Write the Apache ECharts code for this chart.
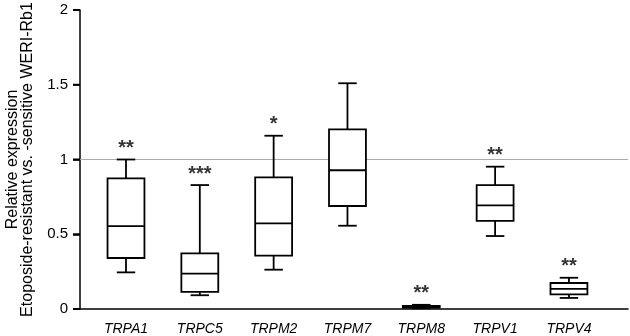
<!DOCTYPE html>
<html>
<head>
<meta charset="utf-8">
<script src="https://cdn.jsdelivr.net/npm/echarts@6/dist/echarts.min.js"></script>
<style>
    html, body { margin: 0; padding: 0; background: #fff; }
    #chart { width: 630px; height: 336px; }
</style>
</head>
<body>
<div id="chart"></div>
<script>
    // genes along the x axis
    let genes = ['TRPA1', 'TRPC5', 'TRPM2', 'TRPM7', 'TRPM8', 'TRPV1', 'TRPV4'];
    // box values: [min, Q1, median, Q3, max]
    let boxValues = [
        [0.245, 0.341, 0.555, 0.874, 1.0],
        [0.092, 0.114, 0.236, 0.372, 0.829],
        [0.263, 0.357, 0.573, 0.881, 1.159],
        [0.557, 0.689, 0.928, 1.202, 1.51],
        [0.005, 0.010, 0.015, 0.020, 0.028],
        [0.488, 0.589, 0.693, 0.829, 0.952],
        [0.074, 0.098, 0.134, 0.174, 0.209]
    ];
    let stars = ['**', '***', '*', '', '**', '**', '**'];
    let yTicks = [0, 0.5, 1, 1.5, 2];
    let referenceLevel = 1;

    let myChart = echarts.init(document.getElementById('chart'));

    let boxData = boxValues.map((v, i) => {
        return [i].concat(v);
    });
    let starData = boxValues.map((v, i) => {
        return {value: [i, v[4]], label: {formatter: stars[i]}};
    });
    let tickData = yTicks.map((v) => [0, v]);

    let lineW = 1.8;

    // box with half-width whisker caps
    function renderBox(params, api) {
        let x = api.value(0);
        let lo = api.coord([x, api.value(1)]);
        let q1 = api.coord([x, api.value(2)]);
        let med = api.coord([x, api.value(3)]);
        let q3 = api.coord([x, api.value(4)]);
        let hi = api.coord([x, api.value(5)]);
        let bw = api.size([1, 0])[0] * 0.5;
        let cw = bw / 4;
        let st = {stroke: '#000', lineWidth: lineW, fill: null};
        return {
            type: 'group',
            children: [
                {type: 'line', shape: {x1: hi[0], y1: hi[1], x2: q3[0], y2: q3[1]}, style: st},
                {type: 'line', shape: {x1: lo[0], y1: lo[1], x2: q1[0], y2: q1[1]}, style: st},
                {type: 'line', shape: {x1: hi[0] - cw, y1: hi[1], x2: hi[0] + cw, y2: hi[1]}, style: st},
                {type: 'line', shape: {x1: lo[0] - cw, y1: lo[1], x2: lo[0] + cw, y2: lo[1]}, style: st},
                {
                    type: 'rect',
                    shape: {x: q3[0] - bw / 2, y: q3[1], width: bw, height: q1[1] - q3[1]},
                    style: {stroke: '#000', lineWidth: lineW, fill: '#fff'}
                },
                {type: 'line', shape: {x1: med[0] - bw / 2, y1: med[1], x2: med[0] + bw / 2, y2: med[1]}, style: st}
            ]
        };
    }

    // outward y ticks, drawn as small filled rects left of the grid
    function renderTick(params, api) {
        let p = api.coord([api.value(0), api.value(1)]);
        let x0 = params.coordSys.x;
        return {
            type: 'rect',
            shape: {x: x0 - 7, y: p[1] - 1, width: 7, height: 2},
            style: {fill: '#000'}
        };
    }

    let option = {
        animation: false,
        grid: {left: 80, right: 2, top: 10, bottom: 27, outerBoundsMode: 'none', containLabel: false},
        xAxis: {
            type: 'value',
            min: -0.623,
            max: 6.80,
            splitLine: {show: false},
            axisLine: {show: true, onZero: false, lineStyle: {color: '#000', width: 1.5}},
            axisTick: {show: false},
            axisLabel: {
                customValues: genes.map((g, i) => i),
                formatter: (val) => genes[Math.round(val)],
                fontFamily: 'Liberation Sans, Arial',
                fontStyle: 'italic',
                fontSize: 14,
                color: '#000',
                margin: 13
            }
        },
        yAxis: {
            type: 'value',
            min: 0,
            max: 2,
            interval: 0.5,
            splitLine: {show: false},
            axisLine: {show: true, onZero: false, lineStyle: {color: '#000', width: 1.5}},
            axisTick: {show: true, length: 7, lineStyle: {color: '#000', width: 1.5}},
            axisLabel: {
                customValues: yTicks,
                formatter: (val) => String(val),
                fontFamily: 'Liberation Sans, Arial',
                fontSize: 15,
                color: '#000',
                margin: 12
            },
            name: 'Relative expression\nEtoposide-resistant vs. -sensitive WERI-Rb1',
            nameLocation: 'middle',
            nameGap: 45,
            nameTextStyle: {
                fontFamily: 'Liberation Sans, Arial',
                fontSize: 16,
                color: '#000',
                lineHeight: 15
            }
        },
        series: [
            {
                type: 'custom',
                data: boxData,
                encode: {x: 0, y: [1, 2, 3, 4, 5]},
                renderItem: renderBox,
                z: 5
            },
            {
                type: 'custom',
                data: tickData,
                encode: {x: 0, y: 1},
                renderItem: renderTick,
                clip: false,
                z: 6
            },
            {
                type: 'scatter',
                data: starData,
                symbolSize: 0,
                label: {
                    show: true,
                    position: 'top',
                    distance: 1,
                    fontFamily: 'Liberation Sans, Arial',
                    fontSize: 20,
                    fontWeight: 'bold',
                    color: '#000'
                },
                markLine: {
                    silent: true,
                    z: 1,
                    symbol: 'none',
                    label: {show: false},
                    lineStyle: {color: '#aaa', width: 1, type: 'solid'},
                    data: [{yAxis: referenceLevel}]
                },
                z: 2
            }
        ]
    };

    myChart.setOption(option);
</script>
</body>
</html>
